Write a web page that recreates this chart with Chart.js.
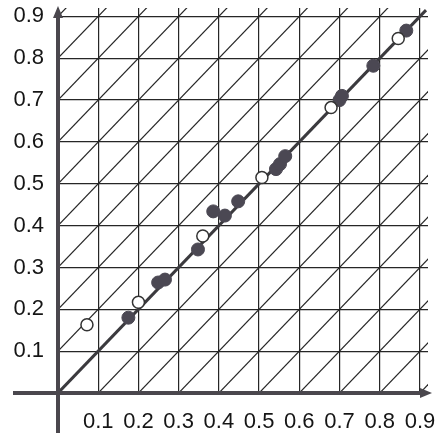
<!DOCTYPE html>
<html>
<head>
<meta charset="utf-8">
<script src="https://cdn.jsdelivr.net/npm/chart.js@4"></script>
<style>
  html, body { margin: 0; padding: 0; background: #fff; }
  #wrap { width: 441px; height: 433px; }
</style>
</head>
<body>
<div id="wrap"><canvas id="chart" width="441" height="433"></canvas></div>
<script>
// values
const tickValues = [0, 0.1, 0.2, 0.3, 0.4, 0.5, 0.6, 0.7, 0.8, 0.9];
const tickLabels = ['', '0.1', '0.2', '0.3', '0.4', '0.5', '0.6', '0.7', '0.8', '0.9'];

const lineX = [0, 0.915];
const lineY = [0, 0.915];

const filledX = [0.175, 0.249, 0.266, 0.348, 0.386, 0.415, 0.448, 0.542, 0.552, 0.565, 0.700, 0.706, 0.784, 0.866];
const filledY = [0.180, 0.264, 0.271, 0.343, 0.434, 0.424, 0.458, 0.535, 0.547, 0.566, 0.700, 0.710, 0.782, 0.866];

const openX = [0.072, 0.200, 0.360, 0.507, 0.679, 0.846];
const openY = [0.163, 0.217, 0.375, 0.515, 0.682, 0.847];

const axisMax = 0.92;

function pts(xs, ys) {
    return xs.map((x, i) => ({ x: x, y: ys[i] }));
}

// diagonal hatch lines y = x +/- t, clipped to the plot area
const diagonals = {
    id: 'diagonals',
    beforeDatasetsDraw(chart) {
        const { ctx, chartArea, scales } = chart;
        const sx = scales.x, sy = scales.y;
        const offsets = tickValues.concat(tickValues.slice(1).map(v => -v));
        ctx.save();
        ctx.beginPath();
        ctx.rect(chartArea.left, chartArea.top, chartArea.right - chartArea.left, chartArea.bottom - chartArea.top);
        ctx.clip();
        ctx.strokeStyle = '#262626';
        ctx.lineWidth = 1.2;
        offsets.forEach(k => {
            if (k === 0) return;
            ctx.beginPath();
            ctx.moveTo(sx.getPixelForValue(-1), sy.getPixelForValue(-1 + k));
            ctx.lineTo(sx.getPixelForValue(2), sy.getPixelForValue(2 + k));
            ctx.stroke();
        });
        ctx.restore();
    }
};

// thick axes with arrow heads
const arrows = {
    id: 'arrows',
    afterDraw(chart) {
        const { ctx, scales } = chart;
        const x0 = scales.x.getPixelForValue(0);
        const y0 = scales.y.getPixelForValue(0);
        const xEnd = chart.width - 9;
        const yEnd = 6;
        ctx.save();
        ctx.strokeStyle = '#4a474d';
        ctx.fillStyle = '#4a474d';
        ctx.lineWidth = 4;
        ctx.beginPath();
        ctx.moveTo(13, y0);
        ctx.lineTo(xEnd - 8, y0);
        ctx.moveTo(x0, chart.height);
        ctx.lineTo(x0, yEnd + 8);
        ctx.stroke();
        ctx.beginPath();
        ctx.moveTo(xEnd, y0);
        ctx.lineTo(xEnd - 12, y0 - 5);
        ctx.lineTo(xEnd - 12, y0 + 5);
        ctx.closePath();
        ctx.fill();
        ctx.beginPath();
        ctx.moveTo(x0, yEnd);
        ctx.lineTo(x0 - 5, yEnd + 12);
        ctx.lineTo(x0 + 5, yEnd + 12);
        ctx.closePath();
        ctx.fill();
        ctx.restore();
    }
};

const tickFont = { family: '"Liberation Sans", Arial, sans-serif', size: 22 };

function axis(size, isX) {
    return {
        type: 'linear',
        min: 0,
        max: axisMax,
        afterBuildTicks: s => { s.ticks = tickValues.map(v => ({ value: v })); },
        afterFit: s => {
            if (isX) s.height = size; else s.width = size;
            s.paddingLeft = s.paddingRight = s.paddingTop = s.paddingBottom = 0;
        },
        grid: { color: '#262626', lineWidth: 1.2, drawTicks: false },
        border: { display: false },
        ticks: {
            color: '#151515',
            font: tickFont,
            padding: isX ? 16 : 14,
            autoSkip: false,
            maxRotation: 0,
            callback: (v, i) => tickLabels[i]
        }
    };
}

new Chart(document.getElementById('chart'), {
    type: 'scatter',
    data: {
        datasets: [
            {
                type: 'line',
                data: pts(lineX, lineY),
                borderColor: '#3b3a3e',
                borderWidth: 3,
                pointRadius: 0,
                fill: false,
                order: 3
            },
            {
                data: pts(filledX, filledY),
                backgroundColor: '#4b4853',
                borderColor: '#4b4853',
                borderWidth: 1,
                pointRadius: 6.5,
                order: 2
            },
            {
                data: pts(openX, openY),
                backgroundColor: '#ffffff',
                borderColor: '#333333',
                borderWidth: 1.5,
                pointRadius: 6,
                order: 1
            }
        ]
    },
    options: {
        responsive: false,
        animation: false,
        devicePixelRatio: 1,
        layout: { padding: { left: 0, right: 13, top: 8, bottom: 0 } },
        plugins: { legend: { display: false }, tooltip: { enabled: false } },
        scales: {
            x: axis(40, true),
            y: axis(58, false)
        }
    },
    plugins: [diagonals, arrows]
});
</script>
</body>
</html>
